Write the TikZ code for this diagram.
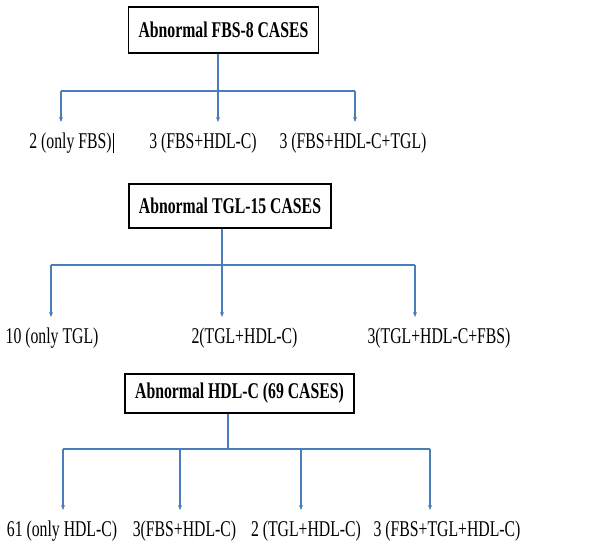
\documentclass[tikz,border=0pt]{standalone}
\usepackage{fontspec}
\setmainfont{Liberation Serif}[FakeStretch=0.7]
\usetikzlibrary{arrows.meta}
\definecolor{linkblue}{RGB}{74,126,187}
\tikzset{
  head/.style={draw=black, line width=1.6pt, font=\fontsize{22.5pt}{26pt}\selectfont\bfseries, inner xsep=10pt, minimum height=44pt},
  leaf/.style={anchor=north, inner xsep=0pt, inner ysep=11pt, text height=15pt, text depth=5pt},
  link/.style={draw=linkblue, line width=1.3pt},
  branch/.style={link, -{Stealth[length=5pt,width=4pt]}},
}
\begin{document}
\begin{tikzpicture}[x=1pt, y=-1pt, font=\fontsize{22.5pt}{26pt}\selectfont]
    \useasboundingbox (0,0) rectangle (591,543);
    % fasting blood sugar
    \node[head, minimum height=46pt] (fbs) at (223.5,30) {Abnormal FBS-8 CASES};
    \node[leaf] (fbs1) at (70.5,122) {2 (only FBS)};
    \node[leaf] (fbs2) at (203,122) {3 (FBS+HDL-C)};
    \node[leaf] (fbs3) at (353,122) {3 (FBS+HDL-C+TGL)};
    \draw[line width=0.8pt] (fbs1.east) ++(1.5,-10) -- ++(0,20);
    \draw[link] (fbs.south -| 218,0) -- (218,91);
    \draw[link] (61,91) -- (355,91);
    \draw[branch] (61,91) -- (fbs1.north -| 61,0);
    \draw[branch] (218,91) -- (fbs2.north -| 218,0);
    \draw[branch] (355,91) -- (fbs3.north -| 355,0);
    % triglycerides
    \node[head] (tgl) at (230,206) {Abnormal TGL-15 CASES};
    \node[leaf] (tgl1) at (52,317) {10 (only TGL)};
    \node[leaf] (tgl2) at (244.5,317) {2(TGL+HDL-C)};
    \node[leaf] (tgl3) at (439,317) {3(TGL+HDL-C+FBS)};
    \draw[link] (tgl.south -| 222,0) -- (222,265);
    \draw[link] (51,265) -- (415,265);
    \draw[branch] (51,265) -- (tgl1.north -| 51,0);
    \draw[branch] (222,265) -- (tgl2.north -| 222,0);
    \draw[branch] (415,265) -- (tgl3.north -| 415,0);
    % HDL cholesterol
    \node[head, minimum height=39pt] (hdl) at (239.5,393.5) {Abnormal HDL-C (69 CASES)};
    \node[leaf] (hdl1) at (62,510) {61 (only HDL-C)};
    \node[leaf] (hdl2) at (184.5,510) {3(FBS+HDL-C)};
    \node[leaf] (hdl3) at (306,510) {2 (TGL+HDL-C)};
    \node[leaf] (hdl4) at (447,510) {3 (FBS+TGL+HDL-C)};
    \draw[link] (hdl.south -| 228,0) -- (228,449);
    \draw[link] (63,449) -- (430,449);
    \draw[branch] (63,449) -- (hdl1.north -| 63,0);
    \draw[branch] (180,449) -- (hdl2.north -| 180,0);
    \draw[branch] (301,449) -- (hdl3.north -| 301,0);
    \draw[branch] (430,449) -- (hdl4.north -| 430,0);
\end{tikzpicture}
\end{document}
